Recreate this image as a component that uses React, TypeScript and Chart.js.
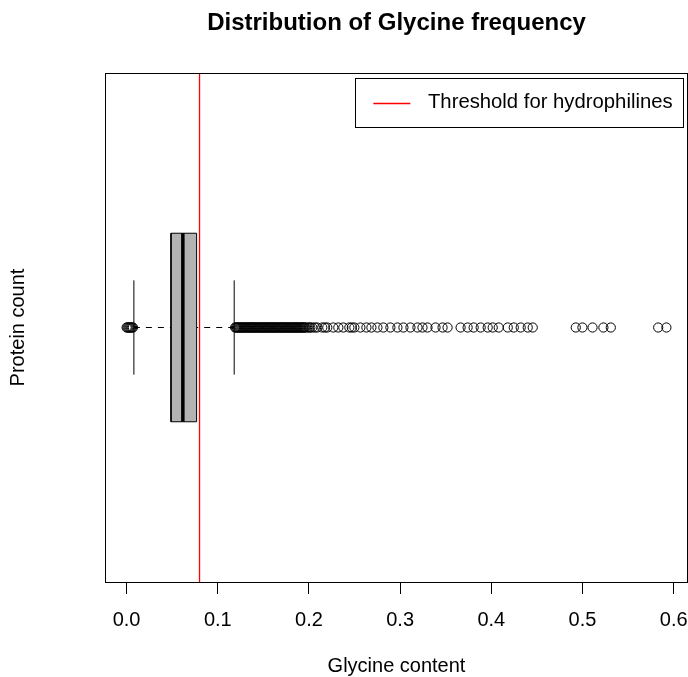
import { useEffect, useRef } from "react";
import { Chart, registerables } from "chart.js";

Chart.register(...registerables);

// ---------- data ----------
const chartTitle = "Distribution of Glycine frequency";
const xAxisTitle = "Glycine content";
const yAxisTitle = "Protein count";
const thresholdLabel = "Threshold for hydrophilines";
const thresholdValue = 0.08;

// lower whisker, Q1, median, Q3, upper whisker
const boxStats = [0.008, 0.0487, 0.0617, 0.0768, 0.118];

const lowOutliers = [0.0, 0.001, 0.002, 0.003, 0.004, 0.005, 0.006, 0.007];

const highOutliers = [
  0.119, 0.12, 0.121, 0.122, 0.123, 0.124, 0.125, 0.126, 0.127, 0.128,
  0.129, 0.13, 0.131, 0.132, 0.133, 0.134, 0.135, 0.136, 0.137, 0.138,
  0.139, 0.14, 0.141, 0.142, 0.143, 0.144, 0.145, 0.146, 0.147, 0.148,
  0.149, 0.15, 0.151, 0.152, 0.153, 0.154, 0.155, 0.156, 0.157, 0.158,
  0.159, 0.16, 0.161, 0.162, 0.163, 0.164, 0.165, 0.166, 0.167, 0.168,
  0.169, 0.17, 0.171, 0.172, 0.173, 0.174, 0.175, 0.176, 0.177, 0.178,
  0.179, 0.18, 0.181, 0.182, 0.183, 0.184, 0.185, 0.186, 0.187, 0.188,
  0.189, 0.19, 0.191, 0.192, 0.193, 0.194, 0.195, 0.196,
  0.198, 0.2, 0.2015, 0.2036, 0.2065, 0.2091, 0.2146, 0.2175, 0.2201, 0.2267,
  0.2322, 0.2377, 0.2443, 0.247, 0.2498, 0.2564, 0.263, 0.2685, 0.2751,
  0.2816, 0.2893, 0.297, 0.3036, 0.3113, 0.319, 0.3245, 0.33, 0.3388,
  0.3465, 0.352, 0.3663, 0.374, 0.3806, 0.3883, 0.396, 0.4015, 0.4081,
  0.418, 0.4246, 0.4322, 0.4399, 0.4454, 0.4926, 0.4999, 0.511, 0.5229,
  0.531, 0.583, 0.592,
];

const xTickValues = [0, 0.1, 0.2, 0.3, 0.4, 0.5, 0.6];

// ---------- layout / style constants ----------
const GROUP_Y = 1;
const BOX_HALF = 0.2;
const STAPLE_HALF = 0.1;
const Y_MIN = 0.46;
const Y_MAX = 1.54;
const FONT = "'Liberation Sans', Arial, Helvetica, sans-serif";
const BOX_FILL = "#b3b3b3";
const THRESHOLD_COLOR = "#ff0000";

const framePlugin = {
  id: "frame",
  afterDraw(chart: any) {
    const { ctx, chartArea: a } = chart;
    ctx.save();
    ctx.strokeStyle = "#000";
    ctx.lineWidth = 1;
    const l = Math.round(a.left) + 0.5;
    const t = Math.round(a.top) + 0.5;
    const r = Math.round(a.right) - 0.5;
    const b = Math.round(a.bottom) + 0.5;
    ctx.strokeRect(l, t, r - l, b - t);
    ctx.restore();
  },
};

const legendBoxPlugin = {
  id: "legendBox",
  afterDraw(chart: any) {
    const label = chart.data.datasets[0].label;
    const { ctx, chartArea: a } = chart;
    ctx.save();
    ctx.font = `20.3px ${FONT}`;
    const tw = ctx.measureText(label).width;
    const boxRight = Math.round(a.right - 5.5);
    const boxTop = Math.round(a.top + 5.3);
    const textX = boxRight - 10.4 - tw;
    const boxLeft = Math.round(textX - 73.3);
    const boxH = 49;
    const midY = boxTop + boxH / 2;
    ctx.fillStyle = "#fff";
    ctx.fillRect(boxLeft, boxTop, boxRight - boxLeft, boxH);
    ctx.strokeStyle = "#000";
    ctx.lineWidth = 1;
    ctx.strokeRect(boxLeft + 0.5, boxTop + 0.5, boxRight - boxLeft, boxH);
    ctx.strokeStyle = THRESHOLD_COLOR;
    ctx.lineWidth = 1.3;
    ctx.beginPath();
    ctx.moveTo(boxLeft + 18.3, Math.round(midY) + 0.5);
    ctx.lineTo(boxLeft + 55.3, Math.round(midY) + 0.5);
    ctx.stroke();
    ctx.fillStyle = "#000";
    ctx.textBaseline = "middle";
    ctx.textAlign = "left";
    ctx.fillText(label, textX, midY);
    ctx.restore();
  },
};

export default function App() {
  const ref = useRef<HTMLCanvasElement | null>(null);

  useEffect(() => {
    if (!ref.current) return;
    const [lw, q1, med, q3, uw] = boxStats;
    const allVals = [...lowOutliers, ...boxStats, ...highOutliers];
    const lo = Math.min(...allVals);
    const hi = Math.max(...allVals);
    const span = hi - lo;
    const xMin = lo - 0.04 * span;
    const xMax = hi + 0.04 * span;

    const lineDs = (label: string, pts: { x: number; y: number }[], extra: any = {}) => ({
      type: "line" as const,
      label,
      data: pts,
      borderColor: "#000",
      borderWidth: 1,
      pointRadius: 0,
      pointHoverRadius: 0,
      tension: 0,
      fill: false,
      showLine: true,
      ...extra,
    });

    const chart = new Chart(ref.current, {
      type: "scatter",
      data: {
        datasets: [
          lineDs(
            thresholdLabel,
            [
              { x: thresholdValue, y: Y_MIN },
              { x: thresholdValue, y: Y_MAX },
            ],
            { borderColor: THRESHOLD_COLOR, borderWidth: 1.3, order: 0 }
          ),
          {
            type: "scatter" as const,
            label: "outliers",
            data: [...lowOutliers, ...highOutliers].map((v) => ({ x: v, y: GROUP_Y })),
            pointStyle: "circle",
            pointRadius: 4.6,
            pointHoverRadius: 4.6,
            pointBorderWidth: 1,
            pointBorderColor: "#000",
            pointBackgroundColor: "rgba(0,0,0,0)",
            showLine: false,
            order: 1,
          } as any,
          lineDs(
            "median",
            [
              { x: med, y: GROUP_Y - BOX_HALF },
              { x: med, y: GROUP_Y + BOX_HALF },
            ],
            { borderWidth: 3.5, borderCapStyle: "butt", order: 2 }
          ),
          lineDs(
            "box",
            [
              { x: q1, y: GROUP_Y - BOX_HALF },
              { x: q3, y: GROUP_Y - BOX_HALF },
              { x: q3, y: GROUP_Y + BOX_HALF },
              { x: q1, y: GROUP_Y + BOX_HALF },
              { x: q1, y: GROUP_Y - BOX_HALF },
            ],
            { fill: "shape", backgroundColor: BOX_FILL, order: 3 }
          ),
          lineDs(
            "lower whisker",
            [
              { x: lw, y: GROUP_Y },
              { x: q1, y: GROUP_Y },
            ],
            { borderDash: [6, 6], order: 4 }
          ),
          lineDs(
            "upper whisker",
            [
              { x: uw, y: GROUP_Y },
              { x: q3, y: GROUP_Y },
            ],
            { borderDash: [6, 6], order: 4 }
          ),
          lineDs(
            "lower staple",
            [
              { x: lw, y: GROUP_Y - STAPLE_HALF },
              { x: lw, y: GROUP_Y + STAPLE_HALF },
            ],
            { order: 4 }
          ),
          lineDs(
            "upper staple",
            [
              { x: uw, y: GROUP_Y - STAPLE_HALF },
              { x: uw, y: GROUP_Y + STAPLE_HALF },
            ],
            { order: 4 }
          ),
        ] as any,
      },
      options: {
        responsive: false,
        maintainAspectRatio: false,
        animation: false,
        events: [],
        layout: { autoPadding: false, padding: { left: 0, right: 0, top: 0, bottom: 0 } },
        plugins: {
          legend: { display: false },
          tooltip: { enabled: false },
          title: {
            display: true,
            text: chartTitle,
            fullSize: false,
            color: "#000",
            font: { family: FONT, size: 24, weight: "bold", lineHeight: 1.2 },
            padding: { top: 9, bottom: 35.2 },
          },
        },
        scales: {
          x: {
            type: "linear",
            min: xMin,
            max: xMax,
            afterBuildTicks: (s: any) => {
              s.ticks = xTickValues.map((v) => ({ value: v }));
            },
            afterFit: (s: any) => {
              s.height = 95;
              s.paddingLeft = 0;
              s.paddingRight = 0;
            },
            ticks: {
              autoSkip: false,
              maxRotation: 0,
              minRotation: 0,
              padding: 14,
              color: "#000",
              font: { family: FONT, size: 20, lineHeight: 1.2 },
              callback: (v: any) => Number(v).toFixed(1),
            },
            grid: {
              display: true,
              drawOnChartArea: false,
              drawTicks: true,
              tickLength: 12,
              color: "#000",
              lineWidth: 1,
            },
            border: { display: false },
            title: {
              display: true,
              text: xAxisTitle,
              color: "#000",
              font: { family: FONT, size: 20, lineHeight: 1 },
              padding: { top: 0, bottom: 0.5 },
            },
          },
          y: {
            type: "linear",
            min: Y_MIN,
            max: Y_MAX,
            afterFit: (s: any) => {
              s.width = 105;
              s.paddingTop = 0;
              s.paddingBottom = 0;
            },
            ticks: { display: false },
            grid: { display: false },
            border: { display: false },
            title: {
              display: true,
              text: yAxisTitle,
              color: "#000",
              font: { family: FONT, size: 20, lineHeight: 1.2 },
              padding: { top: 6, bottom: 0 },
            },
          },
        },
      } as any,
      plugins: [framePlugin, legendBoxPlugin],
    });
    return () => chart.destroy();
  }, []);

  return (
    <div style={{ position: "fixed", left: 0, top: 0, width: 688, height: 677, background: "#fff" }}>
      <canvas ref={ref} width={688} height={677} style={{ display: "block", width: 688, height: 677 }} />
    </div>
  );
}
